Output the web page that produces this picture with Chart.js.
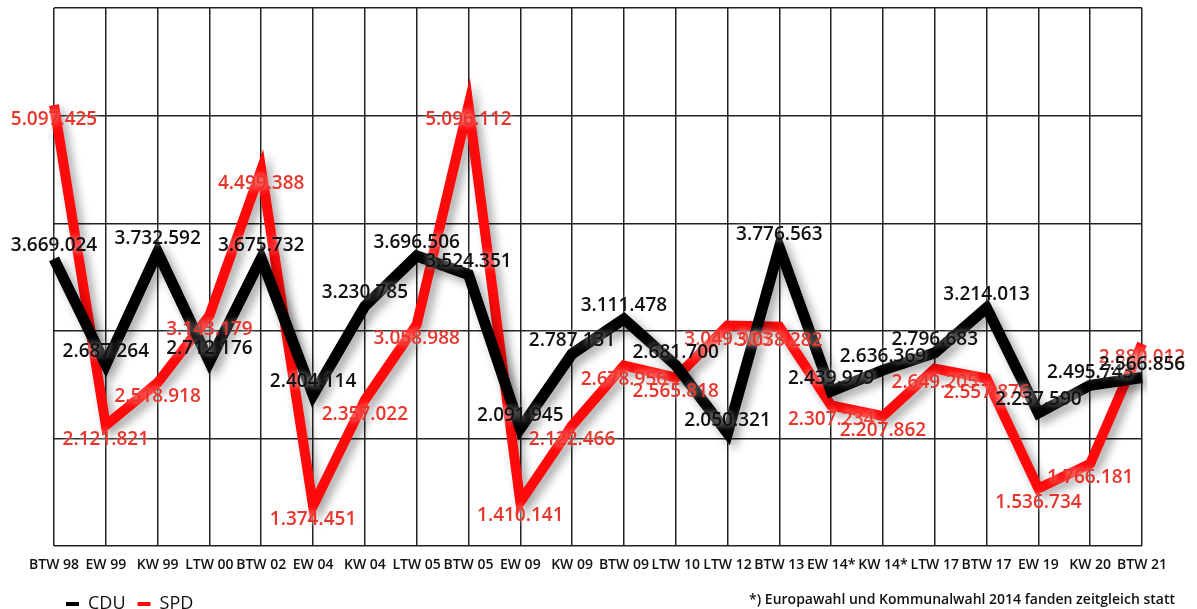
<!DOCTYPE html>
<html lang="de">
<head>
<meta charset="utf-8">
<title>CDU / SPD Stimmen NRW</title>
<script src="https://cdn.jsdelivr.net/npm/chart.js@4.4.1/dist/chart.umd.min.js"></script>
<style>
    html, body { margin: 0; padding: 0; background: #fff; overflow: hidden; }
    #wrap { position: relative; width: 1197px; height: 609px; overflow: hidden; }
    #footnote {
        position: absolute; right: 22px; top: 589px;
        font: 600 14px "Open Sans", sans-serif; color: #111;
    }
</style>
</head>
<body>
<div id="wrap">
    <canvas id="voteChart" width="1197" height="623"></canvas>
    <div id="footnote">*) Europawahl und Kommunalwahl 2014 fanden zeitgleich statt</div>
</div>
<script>
// Wahlen
const elections = ['BTW 98', 'EW 99', 'KW 99', 'LTW 00', 'BTW 02', 'EW 04', 'KW 04', 'LTW 05', 'BTW 05',
    'EW 09', 'KW 09', 'BTW 09', 'LTW 10', 'LTW 12', 'BTW 13', 'EW 14*', 'KW 14*', 'LTW 17', 'BTW 17',
    'EW 19', 'KW 20', 'BTW 21'];

// Stimmen CDU
const cduVotes = [3669024, 2687264, 3732592, 2712176, 3675732, 2404114, 3230785, 3696506, 3524351,
    2091945, 2787131, 3111478, 2681700, 2050321, 3776563, 2439979, 2636369, 2796683, 3214013,
    2237590, 2495743, 2566856];

// Stimmen SPD
const spdVotes = [5097425, 2121821, 2518918, 3143179, 4499388, 1374451, 2357022, 3058988, 5096112,
    1410141, 2122466, 2678956, 2565818, 3049983, 3038282, 2307234, 2207862, 2649205, 2557876,
    1536734, 1766181, 2880012];

// y-Achse (unsichtbar), Rasterlinien je 1 Mio.
const yMin = 1000000;
const yMax = 6000000;
const yStep = 1000000;

const FONT = '"Open Sans", sans-serif';

// Zahlen mit Punkt als Tausendertrenner
function formatVotes(v) {
    return String(v).replace(/\B(?=(\d{3})+(?!\d))/g, '.');
}

// Schatten unter den Linien
const shadowPlugin = {
    id: 'lineShadow',
    beforeDatasetDraw(chart) {
        const ctx = chart.ctx;
        ctx.save();
        ctx.shadowColor = 'rgba(0, 0, 0, 0.35)';
        ctx.shadowBlur = 10;
        ctx.shadowOffsetX = 5;
        ctx.shadowOffsetY = 5;
    },
    afterDatasetDraw(chart) {
        chart.ctx.restore();
    }
};

// Werte an den Punkten (CDU darueber, SPD darunter)
const valueLabelPlugin = {
    id: 'valueLabels',
    afterDatasetsDraw(chart) {
        const ctx = chart.ctx;
        ctx.save();
        ctx.font = '600 19px ' + FONT;
        ctx.textAlign = 'center';
        ctx.textBaseline = 'middle';
        ctx.shadowColor = 'rgba(255, 255, 255, 0.9)';
        ctx.shadowBlur = 6;
        // SPD zuerst, CDU liegt oben
        for (let i = chart.data.datasets.length - 1; i >= 0; i--) {
            const ds = chart.data.datasets[i];
            const meta = chart.getDatasetMeta(i);
            ctx.fillStyle = ds.labelColor;
            meta.data.forEach((pt, idx) => {
                ctx.fillText(formatVotes(ds.data[idx]), pt.x, pt.y + ds.labelShift);
            });
        }
        ctx.restore();
    }
};

document.addEventListener('DOMContentLoaded', function() {
    const ctx = document.getElementById('voteChart').getContext('2d');

    new Chart(ctx, {
        type: 'line',
        data: {
            labels: elections,
            datasets: [{
                label: 'CDU',
                data: cduVotes,
                borderColor: '#000000',
                backgroundColor: '#000000',
                borderWidth: 11,
                labelColor: '#111111',
                labelShift: -13
            }, {
                label: 'SPD',
                data: spdVotes,
                borderColor: '#ff0a0a',
                backgroundColor: '#ff0a0a',
                borderWidth: 10,
                labelColor: '#e8352c',
                labelShift: 14
            }]
        },
        options: {
            responsive: false,
            animation: false,
            devicePixelRatio: 1,
            layout: {
                padding: { left: 54, right: 55, top: 8, bottom: 0 }
            },
            elements: {
                line: {
                    tension: 0,
                    borderJoinStyle: 'miter',
                    borderCapStyle: 'butt'
                },
                point: { radius: 0, hoverRadius: 0 }
            },
            scales: {
                x: {
                    offset: false,
                    grid: { color: '#222', lineWidth: 1.5, drawTicks: false },
                    border: { display: false },
                    ticks: {
                        color: '#111',
                        padding: 10,
                        maxRotation: 0,
                        autoSkip: false,
                        font: { family: FONT, size: 14, weight: '600' }
                    }
                },
                y: {
                    min: yMin,
                    max: yMax,
                    grid: { color: '#222', lineWidth: 1.5, drawTicks: false },
                    border: { display: false },
                    ticks: { display: false, stepSize: yStep }
                }
            },
            plugins: {
                legend: {
                    position: 'bottom',
                    align: 'start',
                    labels: {
                        usePointStyle: true,
                        pointStyle: 'line',
                        pointStyleWidth: 13,
                        boxHeight: 14,
                        padding: 12,
                        color: '#111',
                        font: { family: FONT, size: 18 },
                        generateLabels(chart) {
                            const items = Chart.defaults.plugins.legend.labels.generateLabels(chart);
                            items.forEach(item => { item.lineWidth = 4; });
                            return items;
                        }
                    }
                },
                tooltip: { enabled: false }
            }
        },
        plugins: [shadowPlugin, valueLabelPlugin]
    });
});
</script>
</body>
</html>
